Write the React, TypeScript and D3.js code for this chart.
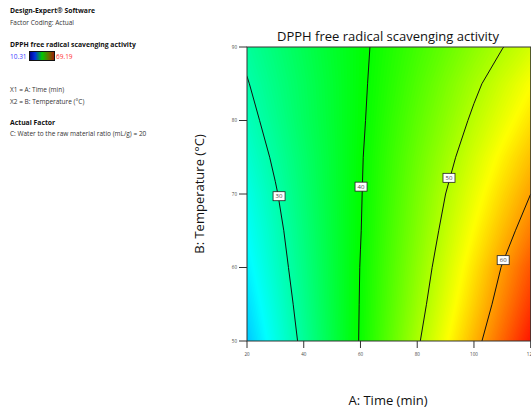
import React from "react";
import * as d3 from "d3";

// ── Data ──────────────────────────────────────────────────────────────────────

const timeTicks = [20, 40, 60, 80, 100, 120];
const tempTicks = [50, 60, 70, 80, 90];

// response grid: rows = temperature (50..90 step 5), cols = time (20..120 step 10)
const gridTime = [20, 30, 40, 50, 60, 70, 80, 90, 100, 110, 120];
const gridTemp = [50, 55, 60, 65, 70, 75, 80, 85, 90];
const dpphGrid = [
  [21.8, 26.4, 31.0, 35.6, 40.3, 44.9, 49.5, 54.1, 58.7, 63.3, 68.0],
  [23.0, 27.3, 31.6, 35.9, 40.2, 44.4, 48.6, 52.9, 57.2, 61.6, 66.0],
  [24.2, 28.2, 32.1, 36.1, 40.1, 44.0, 47.9, 51.9, 56.0, 60.2, 64.3],
  [25.3, 28.9, 32.6, 36.3, 39.9, 43.6, 47.2, 50.9, 54.6, 58.3, 62.0],
  [26.3, 29.7, 33.1, 36.5, 39.8, 43.2, 46.6, 50.0, 53.3, 56.7, 60.0],
  [27.6, 30.6, 33.6, 36.6, 39.7, 42.8, 45.9, 48.9, 52.0, 55.1, 58.1],
  [28.8, 31.5, 34.2, 36.8, 39.5, 42.3, 45.1, 47.8, 50.6, 53.3, 56.1],
  [29.8, 32.2, 34.5, 36.9, 39.4, 41.8, 44.3, 46.8, 49.3, 51.8, 54.3],
  [30.8, 32.9, 35.0, 37.2, 39.3, 41.4, 43.5, 45.6, 47.8, 49.9, 52.0],
];

const contourLevels = [30, 40, 50, 60];
const labelTime = [31.3, 60.2, 91.2, 110.3];
const labelTemp = [69.7, 71.0, 72.2, 61.0];

const rangeMin = 10.31;
const rangeMax = 69.19;

// ── Layout ────────────────────────────────────────────────────────────────────

const W = 531;
const H = 410;
const PLOT = { left: 247, right: 530.7, top: 47, bottom: 341 };
const FONT = "'Open Sans', 'Noto Sans', sans-serif";

const x = d3.scaleLinear().domain([20, 120]).range([PLOT.left, PLOT.right]);
const y = d3.scaleLinear().domain([50, 90]).range([PLOT.bottom, PLOT.top]);

const color = d3
  .scaleLinear<string>()
  .domain(d3.range(5).map((i) => rangeMin + ((rangeMax - rangeMin) * i) / 4))
  .range(["#0000ff", "#00ffff", "#00ff00", "#ffff00", "#ff0000"])
  .clamp(true);

const nCols = gridTime.length;
const nRows = gridTemp.length;
const flat = dpphGrid.flat();
const dT = gridTime[1] - gridTime[0];
const dB = gridTemp[1] - gridTemp[0];

// grid coords (sample i sits at i + 0.5) -> pixels
const projection = d3.geoTransform({
  point(gx: number, gy: number) {
    this.stream.point(
      x(gridTime[0] + (gx - 0.5) * dT),
      y(gridTemp[0] + (gy - 0.5) * dB)
    );
  },
});
const path = d3.geoPath(projection);

const FILL_STEP = 0.25;
const fillThresholds = d3.range(15, 72, FILL_STEP);
const fillBands = d3.contours().size([nCols, nRows]).thresholds(fillThresholds)(flat);
const lines = d3.contours().size([nCols, nRows]).thresholds(contourLevels)(flat);

function Legend() {
  const t = { fontFamily: FONT, fontSize: 6.5, fill: "#333" };
  const b = { ...t, fontSize: 6.8, fontWeight: 700, fill: "#111" };
  return (
    <g>
      <defs>
        <linearGradient id="legendGrad" x1="0" x2="1" y1="0" y2="0">
          <stop offset="0" stopColor="#00008a" />
          <stop offset="0.22" stopColor="#0030e0" />
          <stop offset="0.5" stopColor="#00c800" />
          <stop offset="0.78" stopColor="#6a6a00" />
          <stop offset="1" stopColor="#a01808" />
        </linearGradient>
      </defs>
      <text x={10} y={13} {...b}>Design-Expert® Software</text>
      <text x={10} y={25} {...t}>Factor Coding: Actual</text>
      <text x={10} y={47} {...b}>DPPH free radical scavenging activity</text>
      <text x={10} y={59} {...t} fill="#4040ff">{rangeMin.toFixed(2)}</text>
      <rect x={29.5} y={51.5} width={25} height={9} fill="url(#legendGrad)" stroke="#111" strokeWidth={1} />
      <text x={56} y={59} {...t} fill="#ff3030">{rangeMax.toFixed(2)}</text>
      <text x={10} y={92} {...t}>X1 = A: Time (min)</text>
      <text x={10} y={104} {...t}>X2 = B: Temperature (°C)</text>
      <text x={10} y={125} {...b}>Actual Factor</text>
      <text x={10} y={136} {...t}>C: Water to the raw material ratio (mL/g) = 20</text>
    </g>
  );
}

export default function App() {
  return (
    <svg
      width={W}
      height={H}
      style={{ position: "absolute", left: 0, top: 0, background: "#fff" }}
    >
      <Legend />
      <defs>
        <clipPath id="plotClip">
          <rect x={PLOT.left} y={PLOT.top} width={PLOT.right - PLOT.left} height={PLOT.bottom - PLOT.top} />
        </clipPath>
      </defs>

      <g clipPath="url(#plotClip)">
        {fillBands.map((c, i) => (
          <path key={i} d={path(c) ?? ""} fill={color(c.value + FILL_STEP / 2)} stroke="none" />
        ))}
        {lines.map((c, i) => (
          <path key={"l" + i} d={path(c) ?? ""} fill="none" stroke="#111" strokeWidth={1} />
        ))}
      </g>

      {/* contour labels */}
      {contourLevels.map((lv, i) => (
        <g key={lv} transform={`translate(${x(labelTime[i])},${y(labelTemp[i])})`}>
          <rect x={-6} y={-4.5} width={12} height={9} fill="#fff" stroke="#222" strokeWidth={0.8} />
          <text textAnchor="middle" dy="2" fontFamily={FONT} fontSize={6} fill="#444">{lv}</text>
        </g>
      ))}

      {/* frame */}
      <rect
        x={PLOT.left}
        y={PLOT.top}
        width={PLOT.right - PLOT.left}
        height={PLOT.bottom - PLOT.top}
        fill="none"
        stroke="#333"
        strokeWidth={1}
      />

      {/* y axis */}
      {tempTicks.map((v) => (
        <g key={v} transform={`translate(0,${y(v)})`}>
          <line x1={PLOT.left - 8} x2={PLOT.left} stroke="#333" strokeWidth={1} />
          <text x={PLOT.left - 10} dy="1.6" textAnchor="end" fontFamily={FONT} fontSize={4.5} fill="#444">{v}</text>
        </g>
      ))}

      {/* x axis */}
      {timeTicks.map((v) => (
        <g key={v} transform={`translate(${x(v)},0)`}>
          <line y1={PLOT.bottom} y2={PLOT.bottom + 7} stroke="#333" strokeWidth={1} />
          <text y={PLOT.bottom + 15} textAnchor="middle" fontFamily={FONT} fontSize={4.5} fill="#444">{v}</text>
        </g>
      ))}

      <text x={388} y={41} textAnchor="middle" fontFamily={FONT} fontSize={13} fill="#111">
        DPPH free radical scavenging activity
      </text>
      <text x={388} y={405} textAnchor="middle" fontFamily={FONT} fontSize={13} fill="#111">
        A: Time (min)
      </text>
      <text
        transform={`translate(204,${(PLOT.top + PLOT.bottom) / 2}) rotate(-90)`}
        textAnchor="middle"
        fontFamily={FONT}
        fontSize={13}
        fill="#111"
      >
        B: Temperature (°C)
      </text>
    </svg>
  );
}
